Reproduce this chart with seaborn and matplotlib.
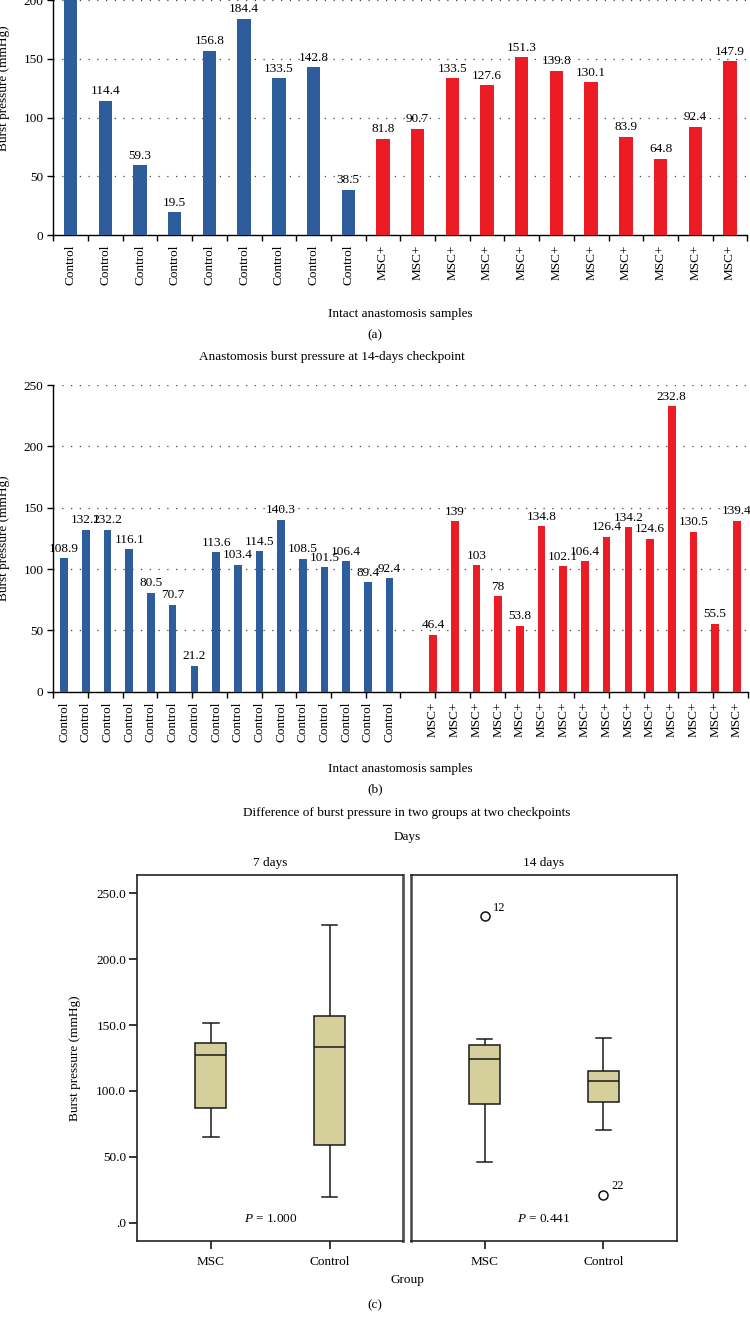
import matplotlib
matplotlib.use("Agg")
import matplotlib.pyplot as plt
import seaborn as sns
import pandas as pd
import numpy as np
from matplotlib.ticker import FuncFormatter, FixedLocator

plt.rcParams['font.family'] = ['Liberation Serif', 'DejaVu Serif']
plt.rcParams['mathtext.fontset'] = 'custom'
plt.rcParams['mathtext.rm'] = 'Liberation Serif'
plt.rcParams['mathtext.it'] = 'Liberation Serif:italic'
plt.rcParams['font.size'] = 9.5
plt.rcParams['axes.linewidth'] = 1.0

# ---------------- data ----------------
day7_control = [225.8, 114.4, 59.3, 19.5, 156.8, 184.4, 133.5, 142.8, 38.5]
day7_msc = [81.8, 90.7, 133.5, 127.6, 151.3, 139.8, 130.1, 83.9, 64.8, 92.4, 147.9]
day14_control = [108.9, 132.2, 132.2, 116.1, 80.5, 70.7, 21.2, 113.6, 103.4,
                 114.5, 140.3, 108.5, 101.5, 106.4, 89.4, 92.4]
day14_msc = [46.4, 139, 103, 78, 53.8, 134.8, 102.1, 106.4, 126.4, 134.2,
             124.6, 232.8, 130.5, 55.5, 139.4]
bar_groups = ["Control", "MSC+"]
box_groups = ["MSC", "Control"]
facet_titles = ["7 days", "14 days"]
p_values = ["1.000", "0.441"]
bar_yticks = [0, 50, 100, 150, 200, 250]
box_yticks = [0, 50, 100, 150, 200, 250]

BLUE = "#2E5D9C"
RED = "#EC1C24"
KHAKI = "#D4CF9B"

W, H = 750, 1323
fig = plt.figure(figsize=(W / 100, H / 100), dpi=100)


def fx(x):
    return x / W


def fy(y):
    return 1 - y / H


def bar_frame(control, msc):
    rows = [("C%d" % i, "Control", v) for i, v in enumerate(control)]
    rows += [("M%d" % i, "MSC+", v) for i, v in enumerate(msc)]
    return pd.DataFrame(rows, columns=["sample", "group", "pressure"])


def draw_bars(ax, df, order, width, xlabel_y):
    sns.barplot(data=df, x="sample", y="pressure", hue="group", order=order,
                hue_order=bar_groups, palette={"Control": BLUE, "MSC+": RED},
                dodge=False, width=width, saturation=1, legend=False,
                errorbar=None, linewidth=0, ax=ax, zorder=3)
    for c in ax.containers:
        ax.bar_label(c, fmt="%g", padding=2.5, fontsize=9.5)
    n = len(order)
    lab = dict(zip(df["sample"], df["group"]))
    ax.set_xticks(range(n))
    ax.set_xticklabels([lab.get(s, "") for s in order], rotation=90)
    ax.tick_params(axis="x", which="major", length=0, pad=7, labelsize=9.5)
    ax.xaxis.set_minor_locator(FixedLocator(np.linspace(-0.5, n - 0.5, 21)))
    ax.tick_params(axis="x", which="minor", length=4, width=1, direction="out")
    ax.set_xlim(-0.5, n - 0.5)
    ax.set_ylim(0, 250)
    ax.set_yticks(bar_yticks)
    ax.tick_params(axis="y", length=4, width=1, pad=3, labelsize=9.5)
    ax.yaxis.grid(True, linestyle=(0, (1, 6)), color="#444", linewidth=0.9)
    ax.set_axisbelow(True)
    for s in ["top", "right"]:
        ax.spines[s].set_visible(False)
    ax.set_xlabel("Intact anastomosis samples", fontsize=9.5)
    ax.xaxis.set_label_coords(0.5, xlabel_y)
    ax.set_ylabel("Burst pressure (mmHg)", fontsize=9.5)
    ax.yaxis.set_label_coords(-0.063, 0.5)


# ---------------- panel (a) ----------------
axa = fig.add_axes([fx(53.3), fy(235), fx(694), 293.5 / H])
dfa = bar_frame(day7_control, day7_msc)
draw_bars(axa, dfa, list(dfa["sample"]), 0.385, (235 - 308) / 293.5)
fig.text(0.5, fy(335), "(a)", ha="center", va="center", fontsize=9.5)

# ---------------- panel (b) ----------------
fig.text(fx(332), fy(357), "Anastomosis burst pressure at 14-days checkpoint",
         ha="center", va="center", fontsize=9.5)
axb = fig.add_axes([fx(53.3), fy(691.7), fx(694.4), 306.7 / H])
dfb = bar_frame(day14_control, day14_msc)
order_b = [s for s in dfb["sample"] if s.startswith("C")] + ["gap"] + \
          [s for s in dfb["sample"] if s.startswith("M")]
draw_bars(axb, dfb, order_b, 0.35, (691.7 - 762.7) / 306.7)
fig.text(0.5, fy(789), "(b)", ha="center", va="center", fontsize=9.5)

# ---------------- panel (c) ----------------
fig.text(fx(407), fy(813), "Difference of burst pressure in two groups at two checkpoints",
         ha="center", va="center", fontsize=9.5)
fig.text(fx(407), fy(837), "Days", ha="center", va="center", fontsize=9.5)

facet_lefts = [137.3, 411.0]
facet_w = 266.0
top_px, bot_px = 875.0, 1241.0
facet_h = bot_px - top_px
sets = [(day7_msc, day7_control), (day14_msc, day14_control)]
for k, (left, (msc, ctrl)) in enumerate(zip(facet_lefts, sets)):
    ax = fig.add_axes([fx(left), fy(bot_px), fx(facet_w), facet_h / H])
    df = pd.DataFrame({"Group": [box_groups[0]] * len(msc) + [box_groups[1]] * len(ctrl),
                       "Burst": list(msc) + list(ctrl)})
    sns.boxplot(data=df, x="Group", y="Burst", order=box_groups, color=KHAKI,
                saturation=1, width=0.26, linecolor="#1a1a1a", linewidth=1.1,
                fliersize=6.5,
                flierprops=dict(marker="o", markerfacecolor="none",
                                markeredgecolor="#111", markeredgewidth=1.1),
                ax=ax)
    # label outliers with their case numbers
    offset = 0
    for gi, vals in enumerate([msc, ctrl]):
        arr = np.asarray(vals, dtype=float)
        q1, q3 = np.percentile(arr, [25, 75])
        iqr = q3 - q1
        for i, v in enumerate(arr):
            if v > q3 + 1.5 * iqr or v < q1 - 1.5 * iqr:
                ax.annotate(str(offset + i + 1), (gi, v), xytext=(6, 6),
                            textcoords="offset points", fontsize=9,
                            ha="left", va="center")
        offset += len(vals)
    ax.set_xlim(-0.62, 1.62)
    ax.set_ylim(-13.9, 263.9)
    ax.set_yticks(box_yticks)
    ax.yaxis.set_major_formatter(FuncFormatter(lambda v, p: ".0" if v == 0 else f"{v:.1f}"))
    ax.tick_params(axis="x", length=6, width=1.1, pad=5, labelsize=9.5)
    ax.tick_params(axis="y", length=5.5, width=1.1, pad=2.5, labelsize=9.5)
    ax.set_xlabel("")
    if k == 0:
        ax.set_ylabel("Burst pressure (mmHg)", fontsize=9.5)
        ax.yaxis.set_label_coords((80.7 - left) / facet_w, 0.5)
    else:
        ax.set_ylabel("")
        ax.tick_params(axis="y", left=False, labelleft=False)
    for s in ax.spines.values():
        s.set_linewidth(1.2)
        s.set_color("#222")
    if k == 0:
        ax.spines["right"].set_linewidth(2.0)
        ax.spines["right"].set_color("#555")
    else:
        ax.spines["left"].set_linewidth(1.8)
        ax.spines["left"].set_color("#444")
    ax.text(0.5, 1 + 12 / facet_h, facet_titles[k], transform=ax.transAxes,
            ha="center", va="center", fontsize=9.5)
    ax.text(0.5, (bot_px - 1219) / facet_h, r"$\mathit{P}$ = " + p_values[k],
            transform=ax.transAxes, ha="center", va="center", fontsize=9.5)

fig.text(fx(407), fy(1280), "Group", ha="center", va="center", fontsize=9.5)
fig.text(0.5, fy(1305), "(c)", ha="center", va="center", fontsize=9.5)

fig.savefig("out.png", dpi=100)
